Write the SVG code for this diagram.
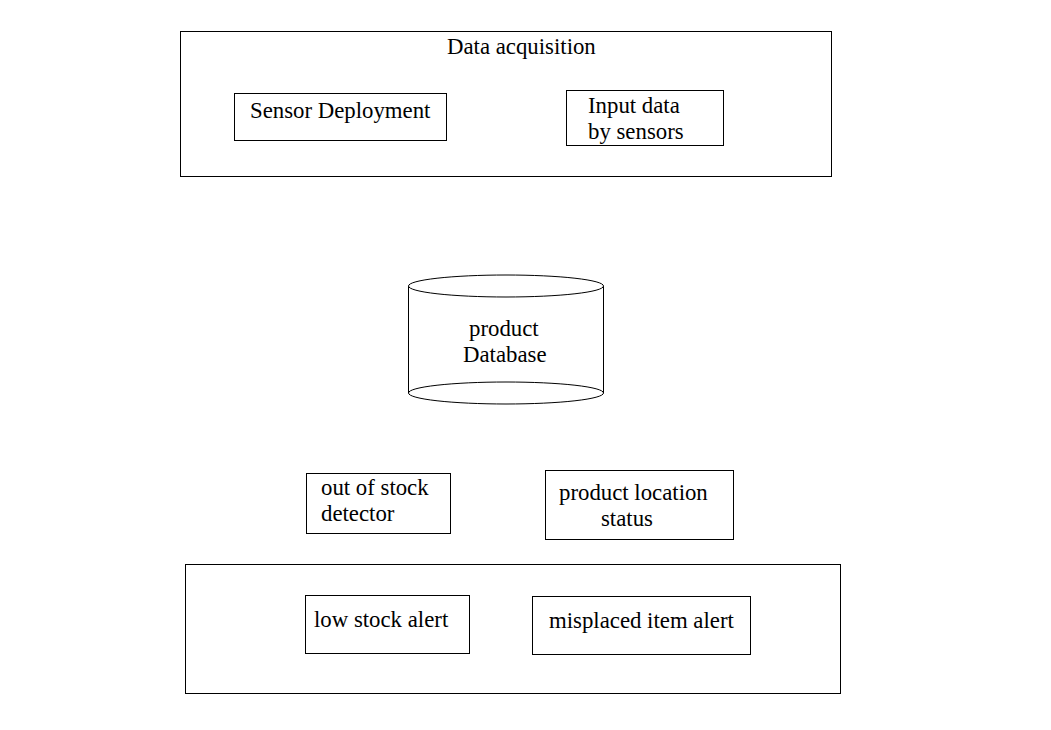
<svg xmlns="http://www.w3.org/2000/svg" width="1051" height="730" viewBox="0 0 1051 730">
<style>
.b{fill:#fff;stroke:#000;stroke-width:1}
.t{font-family:"Liberation Serif","Times New Roman",serif;font-size:22.8px;fill:#000}
</style>
<rect width="1051" height="730" fill="#fff"/>
<g id="data-acquisition">
<rect class="b" x="180.5" y="31.5" width="651" height="145"/>
<text class="t" x="447" y="54">Data acquisition</text>
</g>
<g id="sensor-deployment">
<rect class="b" x="234.5" y="93.5" width="212" height="47"/>
<text class="t" x="250" y="118">Sensor Deployment</text>
</g>
<g id="input-data">
<rect class="b" x="566.5" y="90.5" width="157" height="55"/>
<text class="t" x="588" y="113">Input data</text>
<text class="t" x="588" y="139">by sensors</text>
</g>
<g id="product-database">
<path class="b" d="M408.5,286 L408.5,393 A97.5,11 0 0 0 603.5,393 L603.5,286"/>
<ellipse class="b" cx="506" cy="286" rx="97.5" ry="11"/>
<path fill="none" stroke="#000" d="M408.5,393 A97.5,11 0 0 1 603.5,393"/>
<text class="t" x="469" y="336">product</text>
<text class="t" x="463" y="362">Database</text>
</g>
<g id="out-of-stock">
<rect class="b" x="306.5" y="473.5" width="144" height="60"/>
<text class="t" x="321" y="495">out of stock</text>
<text class="t" x="321" y="521">detector</text>
</g>
<g id="product-location">
<rect class="b" x="545.5" y="470.5" width="188" height="69"/>
<text class="t" x="559" y="500">product location</text>
<text class="t" x="601" y="526">status</text>
</g>
<g id="alerts">
<rect class="b" x="185.5" y="564.5" width="655" height="129"/>
</g>
<g id="low-stock-alert">
<rect class="b" x="305.5" y="595.5" width="164" height="58"/>
<text class="t" x="314" y="627">low stock alert</text>
</g>
<g id="misplaced-item-alert">
<rect class="b" x="532.5" y="596.5" width="218" height="58"/>
<text class="t" x="549" y="628">misplaced item alert</text>
</g>
<g id="connectors"></g>
</svg>
